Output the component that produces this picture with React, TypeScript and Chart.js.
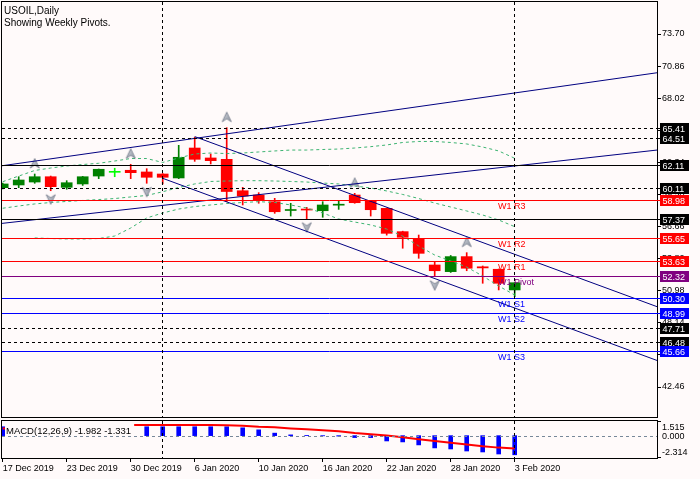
import React, { useEffect, useRef } from 'react';
import { Chart, registerables } from 'chart.js';

Chart.register(...registerables);

// ---------- data ----------
const TICK_BARS = [0, 4, 8, 12, 16, 20, 24, 28, 32];
const TICK_LABELS = ['17 Dec 2019', '23 Dec 2019', '30 Dec 2019', '6 Jan 2020', '10 Jan 2020', '16 Jan 2020', '22 Jan 2020', '28 Jan 2020', '3 Feb 2020'];

const OPEN = [60.10, 60.34, 60.60, 61.07, 60.13, 60.43, 61.13, 61.46, 61.64, 61.49, 61.31, 60.96, 63.61, 62.73, 62.61, 59.83, 59.45, 58.86, 58.08, 58.18, 58.06, 58.55, 59.45, 58.90, 58.27, 56.21, 55.62, 53.26, 52.67, 54.00, 53.10, 52.88, 51.05];
const HIGH = [60.50, 61.07, 61.31, 61.13, 60.72, 61.10, 61.75, 61.82, 62.17, 61.78, 61.35, 63.85, 64.56, 63.08, 65.41, 60.13, 59.66, 59.16, 58.72, 58.36, 58.86, 58.95, 59.60, 58.95, 58.30, 56.25, 55.91, 53.55, 54.10, 54.35, 53.17, 52.90, 51.70];
const LOW = [59.98, 60.10, 60.49, 59.83, 59.96, 60.30, 60.90, 61.07, 60.90, 60.49, 60.43, 60.90, 62.43, 62.20, 58.86, 58.57, 58.72, 57.83, 57.59, 57.36, 57.48, 58.18, 58.72, 57.59, 55.90, 54.74, 53.85, 52.22, 52.60, 52.75, 51.64, 51.05, 50.45];
const CLOSE = [60.43, 60.78, 61.07, 60.19, 60.54, 61.07, 61.73, 61.46, 61.43, 61.02, 61.02, 62.79, 62.61, 62.49, 59.76, 59.36, 58.95, 57.97, 58.15, 58.12, 58.57, 58.62, 58.77, 58.15, 56.06, 55.71, 54.29, 52.75, 54.00, 52.97, 53.00, 51.64, 51.69];

const BAND_UPPER = [60.63, 61.13, 61.62, 61.84, 62.02, 62.15, 62.26, 62.46, 62.68, 62.68, 62.33, 62.73, 63.08, 63.17, 63.12, 63.17, 63.26, 63.35, 63.43, 63.43, 63.48, 63.52, 63.61, 63.73, 63.88, 64.10, 64.19, 64.19, 64.10, 63.97, 63.70, 63.35, 62.70];
const BAND_MIDDLE = [58.28, 58.48, 58.66, 58.79, 58.88, 58.97, 59.05, 59.14, 59.28, 59.41, 59.74, 60.12, 60.43, 60.65, 60.69, 60.72, 60.72, 60.69, 60.65, 60.60, 60.51, 60.43, 60.25, 60.07, 59.81, 59.50, 59.14, 58.74, 58.39, 58.04, 57.68, 57.24, 56.65];
const BAND_LOWER = [null, null, 55.65, 55.60, 55.56, 55.56, 55.60, 55.82, 56.53, 57.42, 57.86, 58.21, 58.43, 58.57, 58.70, 58.79, 58.86, 58.79, 58.57, 58.30, 57.86, 57.33, 57.06, 56.80, 56.44, 55.82, 54.94, 54.14, 53.61, 53.08, 52.28, 51.40, 50.60];

const FRACTAL_UP = [2, 8, 14, 22, 29];
const FRACTAL_DOWN = [3, 9, 19, 27];

// trend channels: [bar, price] anchor pairs
const ASC_UPPER = [[-0.044, 62.04], [40.894, 70.27]];
const ASC_LOWER = [[-0.044, 56.94], [40.894, 63.43]];
const DESC_UPPER = [[12, 64.62], [40.894, 49.57]];
const DESC_LOWER = [[10, 60.93], [40.894, 44.81]];

const LEVELS = [65.41, 64.51, 62.11, 60.11, 58.98, 57.37, 55.65, 53.63, 52.32, 50.30, 48.99, 47.71, 46.48, 45.66];
const LEVEL_NAMES = ['', '', '', '', 'W1 R3', '', 'W1 R2', 'W1 R1', 'W1 Pivot', 'W1 S1', 'W1 S2', '', '', 'W1 S3'];

const PRICE_TICKS = [73.70, 70.86, 68.02, 65.18, 62.34, 59.50, 56.66, 53.82, 50.98, 48.14, 45.30, 42.46];

const MACD_MAIN = [0.92, 1.05, 1.18, 1.28, 1.36, 1.42, 1.40, 1.25, 1.05, 0.92, 0.92, 0.92, 0.92, 0.92, 0.92, 0.81, 0.60, 0.26, 0.08, 0.02, -0.02, -0.05, -0.20, -0.20, -0.55, -0.65, -0.96, -1.27, -1.38, -1.59, -1.69, -1.90, -1.982];
const MACD_SIGNAL = [0.75, 0.80, 0.86, 0.92, 0.98, 1.03, 1.07, 1.09, 1.10, 1.10, 1.10, 1.10, 1.10, 1.10, 1.08, 1.02, 0.92, 0.86, 0.75, 0.65, 0.57, 0.45, 0.27, 0.15, 0.02, -0.17, -0.38, -0.56, -0.74, -0.92, -1.10, -1.24, -1.331];
const MACD_TICKS = [1.515, 0, -2.314];

const SEPARATOR_BARS = [10, 32];

// ---------- layout / style ----------
const BG = '#fffafa';
const FONT = '"Liberation Sans", Arial, sans-serif';
const X_MIN = -0.044;
const X_MAX = 40.894;
const Y_MIN = 39.806;
const Y_MAX = 76.532;
const LABEL_BAR = 30.96;

const LEVEL_STYLES = [
  { color: '#000000', dash: true }, { color: '#000000', dash: true }, { color: '#000000', dash: false },
  { color: '#000000', dash: true }, { color: '#ff0000', dash: false }, { color: '#000000', dash: false },
  { color: '#ff0000', dash: false }, { color: '#ff0000', dash: false }, { color: '#800080', dash: false },
  { color: '#0000ff', dash: false }, { color: '#0000ff', dash: false }, { color: '#000000', dash: true },
  { color: '#000000', dash: true }, { color: '#0000ff', dash: false },
];

function candleColor(i: number) {
  if (OPEN[i] === CLOSE[i]) return '#00ff00';
  return CLOSE[i] > OPEN[i] ? '#008000' : '#ff0000';
}

function makeArrow(up: boolean): HTMLCanvasElement {
  const c = document.createElement('canvas');
  c.width = 12; c.height = 40;
  const ctx = c.getContext('2d')!;
  const cy = up ? 9.5 : 28.5;
  ctx.beginPath();
  if (up) {
    ctx.moveTo(6, cy - 5); ctx.lineTo(10.5, cy + 4.5); ctx.lineTo(6, cy + 1.5); ctx.lineTo(1.5, cy + 4.5);
  } else {
    ctx.moveTo(6, cy + 5); ctx.lineTo(10.5, cy - 4.5); ctx.lineTo(6, cy - 1.5); ctx.lineTo(1.5, cy - 4.5);
  }
  ctx.closePath();
  const g = ctx.createLinearGradient(0, cy - 5, 12, cy + 5);
  g.addColorStop(0, '#d8dbe2');
  g.addColorStop(1, '#8a909c');
  ctx.fillStyle = g;
  ctx.fill();
  ctx.strokeStyle = '#6f7686';
  ctx.lineWidth = 0.8;
  ctx.stroke();
  return c;
}

function drawVSeparators(chart: any) {
  const { ctx, chartArea: ca, scales } = chart;
  ctx.save();
  ctx.strokeStyle = '#000000';
  ctx.lineWidth = 1;
  ctx.setLineDash([3, 3]);
  SEPARATOR_BARS.forEach((b) => {
    const px = Math.round(scales.x.getPixelForValue(b)) - 0.5;
    ctx.beginPath();
    ctx.moveTo(px, ca.top);
    ctx.lineTo(px, ca.bottom);
    ctx.stroke();
  });
  ctx.restore();
}

function drawFrame(chart: any) {
  const { ctx, chartArea: ca } = chart;
  ctx.save();
  ctx.strokeStyle = '#000000';
  ctx.lineWidth = 1;
  ctx.setLineDash([]);
  ctx.strokeRect(ca.left - 0.5, ca.top - 0.5, ca.right - ca.left + 1, ca.bottom - ca.top + 1);
  ctx.restore();
}

const mainOverlay = {
  id: 'mainOverlay',
  afterDatasetsDraw(chart: any) {
    const { ctx, chartArea: ca, scales } = chart;
    const y = scales.y;
    const x = scales.x;
    ctx.save();
    ctx.beginPath();
    ctx.rect(ca.left, ca.top, ca.right - ca.left, ca.bottom - ca.top);
    ctx.clip();
    LEVELS.forEach((v, i) => {
      const st = LEVEL_STYLES[i];
      const py = Math.round(y.getPixelForValue(v)) + 0.5;
      ctx.strokeStyle = st.color;
      ctx.lineWidth = 1;
      ctx.setLineDash(st.dash ? [3, 3] : []);
      ctx.beginPath();
      ctx.moveTo(ca.left, py);
      ctx.lineTo(ca.right, py);
      ctx.stroke();
      if (LEVEL_NAMES[i]) {
        ctx.fillStyle = st.color;
        ctx.font = `9px ${FONT}`;
        ctx.textBaseline = 'alphabetic';
        ctx.textAlign = 'left';
        ctx.fillText(LEVEL_NAMES[i], x.getPixelForValue(LABEL_BAR), py + 8);
      }
    });
    ctx.restore();
    drawVSeparators(chart);
  },
  afterDraw(chart: any) {
    const { ctx, chartArea: ca, scales } = chart;
    const y = scales.y;
    drawFrame(chart);
    ctx.save();
    LEVELS.forEach((v, i) => {
      const st = LEVEL_STYLES[i];
      const py = Math.round(y.getPixelForValue(v));
      ctx.fillStyle = st.color;
      ctx.fillRect(ca.right, py, 3, 1);
      ctx.fillRect(ca.right + 3, py - 5, 29, 11);
      ctx.fillStyle = '#ffffff';
      ctx.font = `9px ${FONT}`;
      ctx.textAlign = 'left';
      ctx.textBaseline = 'alphabetic';
      ctx.fillText(v.toFixed(2), ca.right + 5.5, py + 3.5);
    });
    ctx.fillStyle = '#000000';
    ctx.font = `10px ${FONT}`;
    ctx.textAlign = 'left';
    ctx.textBaseline = 'alphabetic';
    ctx.fillText('USOIL,Daily', 4, 14);
    ctx.fillText('Showing Weekly Pivots.', 4, 26);
    ctx.restore();
  },
};

const macdOverlay = {
  id: 'macdOverlay',
  afterDatasetsDraw(chart: any) {
    const { ctx, chartArea: ca, scales } = chart;
    const y = scales.y;
    const zero = Math.round(y.getPixelForValue(0)) + 0.5;
    ctx.save();
    const label = `MACD(12,26,9) ${MACD_MAIN[MACD_MAIN.length - 1].toFixed(3)} ${MACD_SIGNAL[MACD_SIGNAL.length - 1].toFixed(3)}`;
    ctx.font = `9.5px ${FONT}`;
    const w = ctx.measureText(label).width;
    ctx.fillStyle = BG;
    ctx.fillRect(ca.left + 3, ca.top, w + 4, zero - ca.top - 0.5);
    ctx.fillStyle = '#000000';
    ctx.textAlign = 'left';
    ctx.textBaseline = 'alphabetic';
    ctx.fillText(label, ca.left + 4, ca.top + 12.5);
    ctx.strokeStyle = '#778899';
    ctx.lineWidth = 1;
    ctx.setLineDash([3, 3]);
    ctx.beginPath();
    ctx.moveTo(ca.left, zero);
    ctx.lineTo(ca.right, zero);
    ctx.stroke();
    ctx.restore();
    drawVSeparators(chart);
  },
  afterDraw(chart: any) {
    const { ctx, chartArea: ca, scales } = chart;
    const y = scales.y;
    drawFrame(chart);
    ctx.save();
    ctx.fillStyle = '#000000';
    ctx.font = `9px ${FONT}`;
    ctx.textAlign = 'left';
    ctx.textBaseline = 'middle';
    MACD_TICKS.forEach((v, i) => {
      const py = Math.round(y.getPixelForValue(v));
      let ly = py;
      if (i === 0) { ly = py + 6; ctx.fillRect(ca.right, py, 4, 1); }
      else if (i === MACD_TICKS.length - 1) { ly = py - 6; ctx.fillRect(ca.right, py - 1, 4, 1); }
      ctx.fillText(v.toFixed(3), ca.right + 5, ly + 0.5);
    });
    ctx.restore();
  },
};

export default function App() {
  const mainRef = useRef<HTMLCanvasElement>(null);
  const macdRef = useRef<HTMLCanvasElement>(null);

  useEffect(() => {
    if (!mainRef.current || !macdRef.current) return;
    const upArrow = makeArrow(true);
    const downArrow = makeArrow(false);
    const idx = OPEN.map((_, i) => i);

    const lineDs = (pts: number[][]) => ({
      type: 'line' as const,
      data: pts.map(([bx, p]) => ({ x: bx, y: p })),
      borderColor: '#000080',
      borderWidth: 1,
      pointRadius: 0,
      tension: 0,
      order: 0,
    });
    const bandDs = (vals: (number | null)[]) => ({
      type: 'line' as const,
      data: vals.map((v, i) => ({ x: i, y: v })),
      borderColor: '#3cb371',
      borderWidth: 1,
      borderDash: [3, 3],
      pointRadius: 0,
      tension: 0,
      order: 1,
    });

    const main = new Chart(mainRef.current, {
      type: 'bar',
      data: {
        datasets: [
          lineDs(ASC_UPPER), lineDs(ASC_LOWER), lineDs(DESC_UPPER), lineDs(DESC_LOWER),
          {
            type: 'line', showLine: false, order: 0,
            data: FRACTAL_UP.map((b) => ({ x: b, y: HIGH[b] })),
            pointStyle: upArrow as any, pointRadius: 6,
          },
          {
            type: 'line', showLine: false, order: 0,
            data: FRACTAL_DOWN.map((b) => ({ x: b, y: LOW[b] })),
            pointStyle: downArrow as any, pointRadius: 6,
          },
          bandDs(BAND_UPPER), bandDs(BAND_MIDDLE), bandDs(BAND_LOWER),
          {
            type: 'bar', order: 2, grouped: false,
            data: idx.map((i) => ({ x: i, y: [Math.min(OPEN[i], CLOSE[i]), Math.max(OPEN[i], CLOSE[i])] })),
            backgroundColor: idx.map(candleColor),
            barThickness: 11, minBarLength: 1, borderWidth: 0,
          },
          {
            type: 'bar', order: 3, grouped: false,
            data: idx.map((i) => ({ x: i, y: [LOW[i], HIGH[i]] })),
            backgroundColor: idx.map(candleColor),
            barThickness: 1, borderWidth: 0,
          },
        ] as any,
      },
      options: {
        animation: false,
        responsive: false,
        events: [],
        layout: { autoPadding: false, padding: { left: 2, top: 2, right: 0, bottom: 2 } },
        plugins: { legend: { display: false }, tooltip: { enabled: false } },
        scales: {
          x: { type: 'linear', min: X_MIN, max: X_MAX, display: false, offset: false, bounds: 'data' },
          y: {
            type: 'linear', position: 'right', min: Y_MIN, max: Y_MAX, beginAtZero: false, bounds: 'data',
            afterBuildTicks: (s: any) => { s.ticks = PRICE_TICKS.map((v) => ({ value: v })); },
            afterFit: (s: any) => { s.width = 43; s.paddingTop = 0; s.paddingBottom = 0; },
            ticks: {
              font: { family: FONT, size: 9 }, color: '#000000', padding: 1,
              callback: (v: any) => Number(v).toFixed(2),
            },
            grid: { drawOnChartArea: false, drawTicks: true, tickLength: 4, tickColor: '#000000' },
            border: { display: false },
          },
        },
      } as any,
      plugins: [mainOverlay],
    });

    const macd = new Chart(macdRef.current, {
      type: 'bar',
      data: {
        datasets: [
          {
            type: 'line', order: 0,
            data: MACD_SIGNAL.map((v, i) => ({ x: i, y: v })),
            borderColor: '#ff0000', borderWidth: 2, pointRadius: 0, tension: 0,
          },
          {
            type: 'bar', order: 1, grouped: false,
            data: MACD_MAIN.map((v, i) => ({ x: i, y: v })),
            backgroundColor: '#0000ff', barThickness: 4, borderWidth: 0,
          },
        ] as any,
      },
      options: {
        animation: false,
        responsive: false,
        events: [],
        layout: { autoPadding: false, padding: { left: 2, top: 2, right: 0, bottom: 0 } },
        plugins: { legend: { display: false }, tooltip: { enabled: false } },
        scales: {
          x: {
            type: 'linear', min: X_MIN, max: X_MAX, offset: false, bounds: 'data',
            afterBuildTicks: (s: any) => { s.ticks = TICK_BARS.map((v) => ({ value: v })); },
            afterFit: (s: any) => { s.height = 21; s.paddingLeft = 0; s.paddingRight = 0; },
            ticks: {
              font: { family: FONT, size: 9 }, color: '#000000', padding: 1,
              align: 'start', maxRotation: 0, minRotation: 0, autoSkip: false,
              callback: (v: any) => TICK_LABELS[TICK_BARS.indexOf(Number(v))] ?? '',
            },
            grid: { drawOnChartArea: false, drawTicks: true, tickLength: 4, tickColor: '#000000', offset: false },
            border: { display: false },
          },
          y: {
            type: 'linear', position: 'right', min: MACD_TICKS[2], max: MACD_TICKS[0], beginAtZero: false, bounds: 'data',
            afterFit: (s: any) => { s.width = 43; s.paddingTop = 0; s.paddingBottom = 0; },
            ticks: { display: false },
            grid: { display: false },
            border: { display: false },
          },
        },
      } as any,
      plugins: [macdOverlay],
    });

    return () => {
      main.destroy();
      macd.destroy();
    };
  }, []);

  return (
    <div style={{ position: 'fixed', left: 0, top: 0, width: 700, height: 479, background: BG, overflow: 'hidden' }}>
      <canvas ref={mainRef} width={700} height={419} style={{ position: 'absolute', left: 0, top: 0, width: 700, height: 419 }} />
      <canvas ref={macdRef} width={700} height={60} style={{ position: 'absolute', left: 0, top: 419, width: 700, height: 60 }} />
    </div>
  );
}
